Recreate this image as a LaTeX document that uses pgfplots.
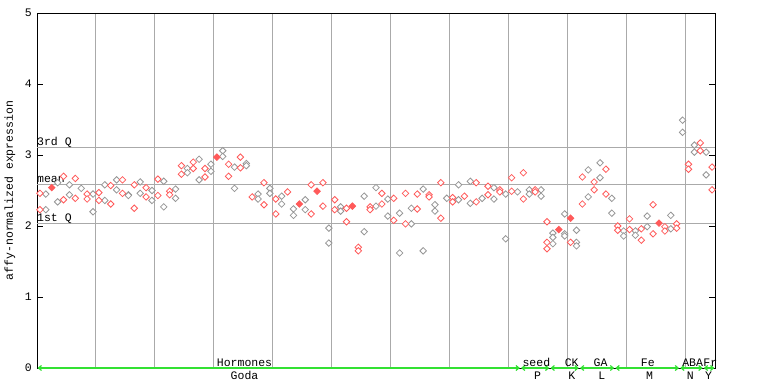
\documentclass[border=0pt]{standalone}
\usepackage{pgfplots}
\pgfplotsset{compat=1.18}
\usepackage{pgfplotstable}
\usepackage{fontspec}
\setmainfont{Liberation Mono}
\usetikzlibrary{arrows.meta}
\definecolor{ptred}{RGB}{255,90,90}
\definecolor{ptgray}{RGB}{150,150,150}
\definecolor{gridgray}{RGB}{170,170,170}
\definecolor{arrgreen}{RGB}{50,225,50}

\pgfplotstableread{
x y
0.5 2.46
0.5 2.23
4.5 2.70
4.5 2.37
6.5 2.67
6.5 2.39
8.5 2.45
8.5 2.38
10.5 2.47
10.5 2.36
12.5 2.57
12.5 2.31
14.5 2.65
14.5 2.46
16.5 2.58
16.5 2.25
18.5 2.54
18.5 2.41
20.5 2.66
20.5 2.43
22.5 2.49
22.5 2.44
24.5 2.85
24.5 2.73
26.5 2.90
26.5 2.81
28.5 2.81
28.5 2.69
32.5 2.87
32.5 2.70
34.5 2.97
34.5 2.82
36.5 2.41
38.5 2.61
38.5 2.30
40.5 2.38
40.5 2.17
42.5 2.48
46.5 2.58
46.5 2.17
48.5 2.61
48.5 2.28
50.5 2.37
50.5 2.23
52.5 2.25
52.5 2.06
54.5 1.70
54.5 1.65
56.5 2.27
56.5 2.23
58.5 2.46
58.5 2.31
60.5 2.39
60.5 2.08
62.5 2.46
62.5 2.03
64.5 2.45
64.5 2.24
66.5 2.44
66.5 2.41
68.5 2.61
68.5 2.11
70.5 2.40
70.5 2.34
72.5 2.42
74.5 2.61
74.5 2.34
76.5 2.56
76.5 2.44
78.5 2.51
78.5 2.48
80.5 2.68
80.5 2.49
82.5 2.75
82.5 2.38
84.5 2.51
84.5 2.48
86.5 2.06
86.5 1.77
86.5 1.68
90.5 1.77
92.5 2.69
92.5 2.31
94.5 2.62
94.5 2.51
96.5 2.80
96.5 2.45
98.5 2.00
98.5 1.94
100.5 2.10
100.5 1.95
102.5 1.96
102.5 1.80
104.5 2.30
104.5 1.89
106.5 1.99
106.5 1.93
108.5 2.03
108.5 1.97
110.5 2.87
110.5 2.80
112.5 3.17
112.5 3.06
114.5 2.83
114.5 2.51
}\redpts

\pgfplotstableread{
x y
1.5 2.45
1.5 2.23
3.5 2.61
3.5 2.34
5.5 2.58
5.5 2.44
7.5 2.53
9.5 2.45
9.5 2.20
11.5 2.58
11.5 2.36
13.5 2.65
13.5 2.51
15.5 2.44
15.5 2.43
17.5 2.62
17.5 2.46
19.5 2.50
19.5 2.36
21.5 2.63
21.5 2.27
23.5 2.52
23.5 2.39
25.5 2.81
25.5 2.75
27.5 2.94
27.5 2.65
29.5 2.87
29.5 2.77
31.5 3.06
31.5 2.98
33.5 2.83
33.5 2.53
35.5 2.88
35.5 2.85
37.5 2.45
37.5 2.38
39.5 2.53
39.5 2.46
41.5 2.42
41.5 2.31
43.5 2.24
43.5 2.15
45.5 2.37
45.5 2.23
49.5 1.97
49.5 1.76
51.5 2.27
51.5 2.21
55.5 2.42
55.5 1.92
57.5 2.54
57.5 2.28
59.5 2.38
59.5 2.14
61.5 2.18
61.5 1.62
63.5 2.25
63.5 2.03
65.5 2.52
65.5 1.65
67.5 2.30
67.5 2.21
69.5 2.39
71.5 2.58
71.5 2.37
73.5 2.63
73.5 2.32
75.5 2.39
77.5 2.54
77.5 2.38
79.5 2.45
79.5 1.82
81.5 2.48
83.5 2.51
83.5 2.45
85.5 2.51
85.5 2.42
87.5 1.90
87.5 1.84
87.5 1.75
89.5 2.17
89.5 1.89
89.5 1.86
91.5 1.94
91.5 1.77
91.5 1.72
93.5 2.79
93.5 2.41
95.5 2.89
95.5 2.68
97.5 2.39
97.5 2.18
99.5 1.93
99.5 1.86
101.5 1.93
101.5 1.87
103.5 2.14
103.5 1.99
107.5 2.15
107.5 1.96
109.5 3.49
109.5 3.32
111.5 3.14
111.5 3.04
113.5 3.04
113.5 2.72
}\graypts

\pgfplotstableread{
x y
2.5 2.54
30.5 2.97
44.5 2.31
47.5 2.49
53.5 2.28
88.5 1.95
90.5 2.11
105.5 2.04
}\solidpts

\begin{document}
\begin{tikzpicture}
\begin{axis}[
  at={(0pt,0pt)}, anchor=south west,
  width=678pt, height=355pt, scale only axis,
  xmin=0, xmax=115, ymin=0, ymax=5,
  axis line style={black, line width=1pt},
  xtick={10,20,...,110}, xticklabels={},
  xtick style={draw=none},
  xmajorgrids=true,
  major grid style={gridgray, line width=1pt},
  ytick={0,1,2,3,4,5},
  ytick pos=both,
  tick align=inside,
  major tick length=6pt,
  ytick style={black, line width=1pt},
  /pgf/number format/assume math mode=true,
  yticklabel style={font=\fontsize{11.5}{12}\selectfont, inner xsep=5pt},
  extra y ticks={2.03,2.58,3.10},
  extra y tick labels={},
  extra y tick style={grid=major, tick style={draw=none}},
  clip=false,
]
\addplot[only marks, mark=square*, mark size=2.3pt,
  mark options={rotate=45, draw=ptgray, fill=white, line width=0.8pt}]
  table[x=x,y=y]{\graypts};
\addplot[only marks, mark=square*, mark size=2.3pt,
  mark options={rotate=45, draw=ptred, fill=white, line width=0.8pt}]
  table[x=x,y=y]{\redpts};
\addplot[only marks, mark=square*, mark size=2.3pt,
  mark options={rotate=45, draw=ptred, fill=ptred, line width=0.8pt}]
  table[x=x,y=y]{\solidpts};

\begin{scope}[font=\fontsize{11.5}{12}\selectfont]
\node[anchor=base west, inner sep=0pt] at (axis cs:0,3.10) [yshift=2.5pt] {3rd Q};
\node[anchor=base west, inner sep=0pt] at (axis cs:0,2.58) [yshift=2.5pt] {mean};
\node[anchor=base west, inner sep=0pt] at (axis cs:0,2.03) [yshift=2.5pt] {1st Q};

\draw[arrgreen, line width=1.2pt, {Straight Barb[length=3pt,width=5pt]}-{Straight Barb[length=3pt,width=5pt]}] (axis cs:0.1,0) -- (axis cs:81.9,0);
\draw[arrgreen, line width=1.2pt, {Straight Barb[length=3pt,width=5pt]}-{Straight Barb[length=3pt,width=5pt]}] (axis cs:82.1,0) -- (axis cs:86.9,0);
\draw[arrgreen, line width=1.2pt, {Straight Barb[length=3pt,width=5pt]}-{Straight Barb[length=3pt,width=5pt]}] (axis cs:87.1,0) -- (axis cs:91.9,0);
\draw[arrgreen, line width=1.2pt, {Straight Barb[length=3pt,width=5pt]}-{Straight Barb[length=3pt,width=5pt]}] (axis cs:92.1,0) -- (axis cs:97.9,0);
\draw[arrgreen, line width=1.2pt, {Straight Barb[length=3pt,width=5pt]}-{Straight Barb[length=3pt,width=5pt]}] (axis cs:98.1,0) -- (axis cs:108.9,0);
\draw[arrgreen, line width=1.2pt, {Straight Barb[length=3pt,width=5pt]}-{Straight Barb[length=3pt,width=5pt]}] (axis cs:109.1,0) -- (axis cs:112.9,0);
\draw[arrgreen, line width=1.2pt, {Straight Barb[length=3pt,width=5pt]}-{Straight Barb[length=3pt,width=5pt]}] (axis cs:113.1,0) -- (axis cs:114.9,0);

\node[anchor=base, inner sep=0pt] at (axis cs:35.2,0) [yshift=2pt] {Hormones};
\node[anchor=base, inner sep=0pt] at (axis cs:84.7,0) [yshift=2pt] {seed};
\node[anchor=base, inner sep=0pt] at (axis cs:90.7,0) [yshift=2pt] {CK};
\node[anchor=base, inner sep=0pt] at (axis cs:95.6,0) [yshift=2pt] {GA};
\node[anchor=base, inner sep=0pt] at (axis cs:103.6,0) [yshift=2pt] {Fe};
\node[anchor=base, inner sep=0pt] at (axis cs:111.2,0) [yshift=2pt] {ABA};
\node[anchor=base, inner sep=0pt] at (axis cs:114.2,0) [yshift=2pt] {Fr};

\node[anchor=base, inner sep=0pt] at (axis cs:35.2,0) [yshift=-11pt] {Goda};
\node[anchor=base, inner sep=0pt] at (axis cs:84.9,0) [yshift=-11pt] {P};
\node[anchor=base, inner sep=0pt] at (axis cs:90.7,0) [yshift=-11pt] {K};
\node[anchor=base, inner sep=0pt] at (axis cs:95.8,0) [yshift=-11pt] {L};
\node[anchor=base, inner sep=0pt] at (axis cs:103.9,0) [yshift=-11pt] {M};
\node[anchor=base, inner sep=0pt] at (axis cs:110.8,0) [yshift=-11pt] {N};
\node[anchor=base, inner sep=0pt] at (axis cs:113.9,0) [yshift=-11pt] {Y};
\end{scope}
\end{axis}
\node[rotate=90, font=\fontsize{11.5}{12}\selectfont] at (-27pt,177.5pt) {affy-normalized expression};
\pgfresetboundingbox
\useasboundingbox (-37pt,-16pt) rectangle (731pt,368pt);
\end{tikzpicture}
\end{document}
